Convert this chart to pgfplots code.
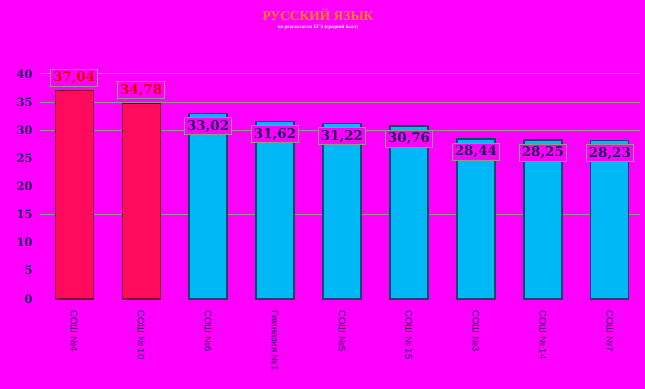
\documentclass[border=0pt]{standalone}
\usepackage{pgfplots}
\pgfplotsset{compat=1.18}
\usepackage{fontspec}
\setmainfont{Liberation Serif}
\newfontfamily\sansf{Liberation Sans}
\newfontfamily\numf{DejaVu Serif}
\definecolor{bg}{HTML}{FF00FF}
\definecolor{redbar}{HTML}{FF0A5C}
\definecolor{rededge}{HTML}{7A0030}
\definecolor{bluebar}{HTML}{00B8F5}
\definecolor{blueedge}{HTML}{0A4A6A}
\definecolor{navy}{HTML}{1C1C5C}
\definecolor{gridc}{HTML}{8F978F}
\definecolor{titlec}{HTML}{FF8A00}
\begin{document}
\begin{tikzpicture}
\fill[bg] (0,0) rectangle (645bp,389bp);
\node[text=titlec,font=\fontsize{13.5}{14}\selectfont\bfseries] at (318bp,374bp) {РУССКИЙ ЯЗЫК};
\node[text=white,font=\fontsize{5}{6}\selectfont\bfseries] at (318bp,362bp) {по результатам ЕГЭ (средний балл)};
\begin{axis}[
  at={(40bp,90bp)}, anchor=south west,
  scale only axis, width=600bp, height=225bp,
  xmin=-0.51, xmax=8.45, ymin=0, ymax=40,
  axis line style={draw=none},
  major tick style={draw=none},
  ytick={0,5,...,40},
  extra y ticks={15,30,35,40}, extra y tick labels={},
  extra y tick style={grid=major, major grid style={gridc, line width=1bp}},
  /pgf/number format/assume math mode=true,
  yticklabel style={font=\numf\fontsize{11.5}{12}\selectfont\bfseries, text=navy, xshift=-4bp},
  xtick={0,...,8},
  xticklabels={СОШ №4, СОШ № 10, СОШ №6, Гимназия №1, СОШ №5, СОШ № 15, СОШ №3, СОШ № 14, СОШ №7},
  xticklabel style={rotate=-90, anchor=west, font=\sansf\fontsize{9.5}{10}\selectfont, text=navy, xshift=4bp},
  ybar, bar width=38bp, bar shift=0pt,
  point meta=explicit symbolic,
  nodes near coords,
  every node near coord/.append style={font=\numf\fontsize{13.5}{13.5}\selectfont\bfseries, fill=bg, draw=gridc, line width=1bp, inner sep=2.5bp, anchor=center},
  clip=false,
]
\addplot[fill=redbar, draw=rededge, line width=1.2pt,
  every node near coord/.append style={text=red!85!black, yshift=13bp}]
  coordinates {(0,37.04) [37,04] (1,34.78) [34,78]};
\addplot[fill=bluebar, draw=blueedge, line width=1.2pt,
  every node near coord/.append style={text=navy, yshift=-13bp}]
  coordinates {(2,33.02) [33,02] (3,31.62) [31,62] (4,31.22) [31,22] (5,30.76) [30,76] (6,28.44) [28,44] (7,28.25) [28,25] (8,28.23) [28,23]};
\end{axis}
\end{tikzpicture}
\end{document}
